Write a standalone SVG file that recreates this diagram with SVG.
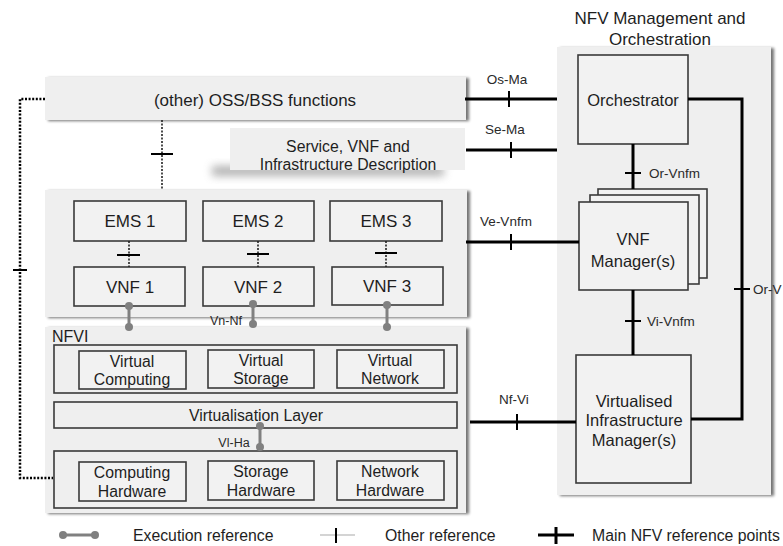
<svg xmlns="http://www.w3.org/2000/svg" width="783" height="546" viewBox="0 0 783 546">
<defs>
<filter id="sh" x="-5%" y="-5%" width="115%" height="115%">
<feGaussianBlur in="SourceAlpha" stdDeviation="1.5"/>
<feOffset dx="3" dy="1" result="b"/>
<feComponentTransfer><feFuncA type="linear" slope="0.55"/></feComponentTransfer>
<feMerge><feMergeNode/><feMergeNode in="SourceGraphic"/></feMerge>
</filter>
<filter id="blur" x="-20%" y="-80%" width="140%" height="260%">
<feGaussianBlur stdDeviation="4"/>
</filter>
</defs>
<style>
text{font-family:"Liberation Sans",Arial,sans-serif;fill:#1e1e1e;text-anchor:middle}
.area{fill:#efefef;stroke:none}
.box{fill:#f2f2f2;stroke:#3a3a3a;stroke-width:1.6}
.cont{fill:#efefef;stroke:#3a3a3a;stroke-width:1.6}
.t17{font-size:17px}
.t16{font-size:16.5px}
.t15{font-size:15.8px}
.lbl{font-size:13.5px;fill:#2a2a2a}
.main{stroke:#000;stroke-width:3;fill:none}
.tick{stroke:#000;stroke-width:2;fill:none}
.dot{stroke:#000;stroke-width:2.5;stroke-dasharray:2 1.6;fill:none}
.dotthin{stroke:#222;stroke-width:1.6;stroke-dasharray:2 1.5;fill:none}
.exe{stroke:#808080;stroke-width:3;fill:none}
.exd{fill:#808080}
</style>

<g id="mano-area">
<rect class="area" x="557" y="47" width="214" height="448" filter="url(#sh)"/>
<text class="t17" x="660" y="24">NFV Management and</text>
<text class="t17" x="660" y="45">Orchestration</text>
</g>

<g id="oss-bss">
<rect class="area" x="45" y="77" width="421" height="43" filter="url(#sh)"/>
<text class="t17" x="255" y="106">(other) OSS/BSS functions</text>
</g>

<g id="service-desc">
<rect x="212" y="166" width="232" height="10" fill="#999" opacity="0.75" filter="url(#blur)"/>
<rect class="area" x="230" y="128" width="235" height="42"/>
<text class="t15" x="348" y="152">Service, VNF and</text>
<text class="t15" x="348" y="170">Infrastructure Description</text>
</g>

<g id="vnf-layer">
<rect class="area" x="45" y="190" width="422" height="127" filter="url(#sh)"/>
</g>
<g id="ems1"><rect class="box" x="74" y="201" width="112" height="40"/><text class="t17" x="130" y="227">EMS 1</text></g>
<g id="ems2"><rect class="box" x="203" y="201" width="111" height="40"/><text class="t17" x="258" y="227">EMS 2</text></g>
<g id="ems3"><rect class="box" x="330" y="201" width="112" height="40"/><text class="t17" x="386" y="227">EMS 3</text></g>
<g id="vnf1"><rect class="box" x="74" y="267" width="111" height="39"/><text class="t17" x="130" y="293">VNF 1</text></g>
<g id="vnf2"><rect class="box" x="203" y="267" width="111" height="39"/><text class="t17" x="258" y="293">VNF 2</text></g>
<g id="vnf3"><rect class="box" x="332" y="267" width="111" height="38"/><text class="t17" x="387" y="292">VNF 3</text></g>

<g id="nfvi">
<rect class="area" x="45" y="327" width="421" height="186" filter="url(#sh)"/>
<text x="52" y="342" style="text-anchor:start;font-size:16px">NFVI</text>
</g>
<g id="virtual-resources">
<rect class="cont" x="54" y="345" width="403" height="48"/>
</g>
<g id="virtual-computing"><rect class="box" x="79" y="351" width="107" height="38"/><text class="t15" x="132" y="367">Virtual</text><text class="t15" x="132" y="385">Computing</text></g>
<g id="virtual-storage"><rect class="box" x="208" y="350" width="106" height="38"/><text class="t15" x="261" y="366">Virtual</text><text class="t15" x="261" y="384">Storage</text></g>
<g id="virtual-network"><rect class="box" x="337" y="350" width="107" height="38"/><text class="t15" x="390" y="366">Virtual</text><text class="t15" x="390" y="384">Network</text></g>
<g id="virtualisation-layer"><rect class="cont" x="54" y="402" width="403" height="26"/><text class="t15" x="256" y="421">Virtualisation Layer</text></g>
<g id="hardware-resources">
<rect class="cont" x="54" y="451" width="403" height="57"/>
</g>
<g id="computing-hardware"><rect class="box" x="79" y="462" width="107" height="39"/><text class="t15" x="132" y="478">Computing</text><text class="t15" x="132" y="497">Hardware</text></g>
<g id="storage-hardware"><rect class="box" x="208" y="461" width="106" height="39"/><text class="t15" x="261" y="477">Storage</text><text class="t15" x="261" y="496">Hardware</text></g>
<g id="network-hardware"><rect class="box" x="337" y="461" width="107" height="39"/><text class="t15" x="390" y="477">Network</text><text class="t15" x="390" y="496">Hardware</text></g>

<g id="orchestrator"><rect class="box" x="578" y="55" width="110" height="89"/><text class="t16" x="633" y="106">Orchestrator</text></g>
<g id="vnf-manager">
<rect class="box" x="598" y="189" width="109" height="89"/>
<rect class="box" x="590" y="195" width="109" height="89"/>
<rect class="box" x="579" y="202" width="109" height="88"/>
<text class="t16" x="633" y="245">VNF</text>
<text class="t16" x="633" y="267">Manager(s)</text>
</g>
<g id="vim"><rect class="box" x="576" y="355" width="115" height="128"/>
<text class="t16" x="634" y="407">Virtualised</text>
<text class="t16" x="634" y="426">Infrastructure</text>
<text class="t16" x="634" y="446">Manager(s)</text>
</g>

<g id="connectors">
<path class="dot" d="M45 99 H20 V478 H53"/>
<path class="tick" d="M13 270 H27"/>
<path class="dotthin" d="M162 120 V189"/>
<path class="tick" d="M151 154 H173"/>
<path class="dotthin" d="M129 241 V267"/>
<path class="tick" d="M117 255 H140"/>
<path class="dotthin" d="M258 241 V267"/>
<path class="tick" d="M247 254 H269"/>
<path class="dotthin" d="M386 241 V267"/>
<path class="tick" d="M375 253 H397"/>
<path class="exe" d="M129 306 V327"/><circle class="exd" cx="129" cy="306" r="4"/><circle class="exd" cx="129" cy="327" r="4"/>
<path class="exe" d="M253 304 V324"/><circle class="exd" cx="253" cy="304" r="4"/><circle class="exd" cx="253" cy="324" r="4"/>
<path class="exe" d="M387 305 V327"/><circle class="exd" cx="387" cy="305" r="4"/><circle class="exd" cx="387" cy="327" r="4"/>
<text class="lbl" x="226" y="325" style="font-size:12.5px">Vn-Nf</text>
<path class="exe" d="M260 426 V447"/><circle class="exd" cx="260" cy="426" r="4"/><circle class="exd" cx="260" cy="447" r="4"/>
<text class="lbl" x="234" y="447" style="font-size:12.5px">Vl-Ha</text>
<path class="main" d="M465 99 H557"/><path class="tick" d="M509 91 V107"/>
<text class="lbl" x="507" y="84">Os-Ma</text>
<path class="main" d="M466 150 H557"/><path class="tick" d="M511 142 V158"/>
<text class="lbl" x="505" y="134">Se-Ma</text>
<path class="main" d="M466 242 H579"/><path class="tick" d="M511 234 V250"/>
<text class="lbl" x="506" y="226">Ve-Vnfm</text>
<path class="main" d="M470 422 H576"/><path class="tick" d="M517 414 V430"/>
<text class="lbl" x="514" y="404">Nf-Vi</text>
<path class="main" d="M633 144 V189"/><path class="tick" d="M625 173 H641"/>
<text class="lbl" x="649" y="178" style="text-anchor:start">Or-Vnfm</text>
<path class="main" d="M633 290 V355"/><path class="tick" d="M625 321 H641"/>
<text class="lbl" x="647" y="326" style="text-anchor:start">Vi-Vnfm</text>
<path class="main" d="M688 99 H742 V419 H691"/><path class="tick" d="M734 289 H750"/>
<text class="lbl" x="753" y="294" style="text-anchor:start">Or-V</text>
</g>

<g id="legend">
<path class="exe" d="M63 535 H95"/><circle class="exd" cx="63" cy="535" r="4"/><circle class="exd" cx="95" cy="535" r="4"/>
<text class="t15" x="133" y="541" style="text-anchor:start">Execution reference</text>
<path d="M320 535 H355" stroke="#aaa" stroke-width="1.2"/><path class="tick" d="M336 528 V543"/>
<text class="t15" x="385" y="541" style="text-anchor:start">Other reference</text>
<path class="main" d="M538 535 H574"/><path class="tick" d="M556 527 V544" style="stroke-width:3"/>
<text class="t15" x="592" y="541" style="text-anchor:start;font-size:15.8px">Main NFV reference points</text>
</g>
</svg>
